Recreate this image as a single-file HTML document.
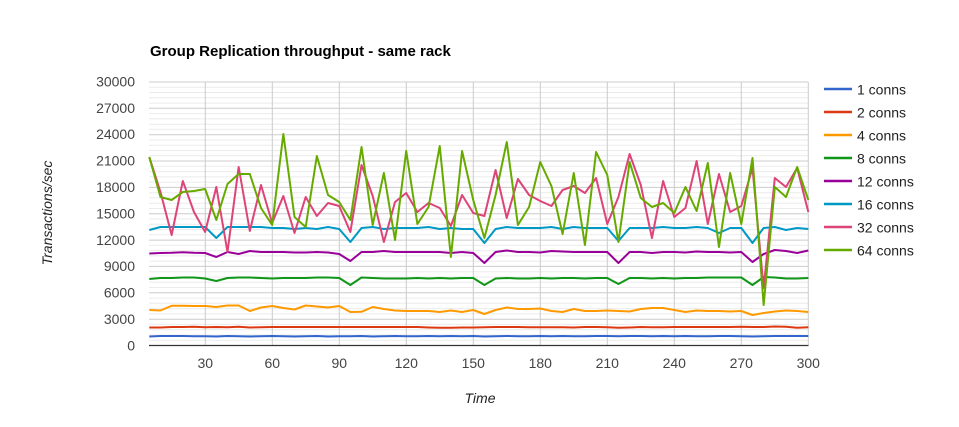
<!DOCTYPE html>
<html><head><meta charset="utf-8"><style>
html,body{margin:0;padding:0;background:#fff;}
svg{display:block;font-family:"Liberation Sans",Arial,sans-serif;}
</style></head><body>
<svg width="959" height="427" viewBox="0 0 959 427" xmlns="http://www.w3.org/2000/svg">
<rect width="959" height="427" fill="#fff"/>
<text x="150" y="56" font-size="15" font-weight="bold" fill="#000">Group Replication throughput - same rack</text>
<g id="minor" stroke="#ebebeb" stroke-width="1">
<path d="M149 340.2H808M149 335H808M149 329.7H808M149 324.4H808
M149 313.9H808M149 308.6H808M149 303.3H808M149 298.1H808
M149 287.5H808M149 282.3H808M149 277H808M149 271.7H808
M149 261.2H808M149 255.9H808M149 250.6H808M149 245.4H808
M149 234.8H808M149 229.6H808M149 224.3H808M149 219H808
M149 208.5H808M149 203.2H808M149 197.9H808M149 192.7H808
M149 182.1H808M149 176.9H808M149 171.6H808M149 166.3H808
M149 155.8H808M149 150.5H808M149 145.2H808M149 140H808
M149 129.4H808M149 124.2H808M149 118.9H808M149 113.6H808
M149 103.1H808M149 97.8H808M149 92.5H808M149 87.3H808"/>
</g>
<g stroke="#cccccc" stroke-width="1">
<path d="M149 319.2H808M149 292.8H808M149 266.4H808M149 240.1H808M149 213.7H808M149 187.4H808M149 161H808M149 134.7H808M149 108.3H808M149 82H808"/>
<path d="M205.3 82V345M272.3 82V345M339.3 82V345M406.3 82V345M473.3 82V345M540.3 82V345M607.3 82V345M674.3 82V345M741.3 82V345M808.3 82V345"/>
</g>
<line x1="149" y1="345.5" x2="808.5" y2="345.5" stroke="#333" stroke-width="1.2"/>
<g font-size="14" fill="#444" text-anchor="end">
<text x="135" y="350.5">0</text><text x="135" y="324">3000</text><text x="135" y="297.5">6000</text><text x="135" y="271">9000</text><text x="135" y="245">12000</text><text x="135" y="218.5">15000</text><text x="135" y="192">18000</text><text x="135" y="165.5">21000</text><text x="135" y="139">24000</text><text x="135" y="113">27000</text><text x="135" y="86.5">30000</text>
</g>
<g font-size="14" fill="#444" text-anchor="middle">
<text x="205.3" y="368">30</text><text x="272.3" y="368">60</text><text x="339.3" y="368">90</text><text x="406.3" y="368">120</text><text x="473.3" y="368">150</text><text x="540.3" y="368">180</text><text x="607.3" y="368">210</text><text x="674.3" y="368">240</text><text x="741.3" y="368">270</text><text x="808.3" y="368">300</text>
</g>
<text x="480" y="403" font-size="14" font-style="italic" fill="#222" text-anchor="middle">Time</text>
<text transform="translate(52,213) rotate(-90)" font-size="14" font-style="italic" fill="#222" text-anchor="middle">Transactions/sec</text>
<g transform="translate(149.3,0) scale(11.17,1)" fill="none" stroke-width="2" stroke-linejoin="round">
<polyline vector-effect="non-scaling-stroke" stroke="#3366cc" points="0,336.5 1,336 2,336 3,336 4,336.3 5,336.3 6,336.5 7,336 8,336.2 9,336.5 10,336.3 11,336 12,336.2 13,336.5 14,336.3 15,336 16,336.5 17,336.3 18,336.2 19,336 20,336.5 21,336.2 22,336 23,336.3 24,336.2 25,336 26,336.3 27,336 28,336.2 29,336 30,336.5 31,336.2 32,336 33,336.2 34,336.3 35,336 36,336.2 37,336 38,336.2 39,336.3 40,336 41,336 42,336.3 43,336 44,336 45,336.2 46,336 47,336.3 48,336 49,336.2 50,336.2 51,336 52,336 53,336.2 54,336.5 55,336.2 56,336 57,336 58,336 59,336"/>
<polyline vector-effect="non-scaling-stroke" stroke="#dc3912" points="0,327.5 1,327.5 2,327 3,327 4,326.8 5,327.2 6,327 7,327.3 8,326.8 9,327.5 10,327.3 11,327 12,327 13,327 14,327 15,327 16,327 17,327 18,327 19,327 20,327 21,327 22,327 23,327 24,327 25,327.5 26,327.8 27,327.8 28,327.5 29,327.5 30,327.2 31,327 32,327 33,327 34,327.3 35,327.3 36,327.3 37,327.3 38,327.5 39,327 40,327 41,327.3 42,327.8 43,327.5 44,327 45,327.3 46,327.2 47,327 48,327 49,327 50,327 51,327 52,327 53,326.8 54,327 55,327 56,326.5 57,326.8 58,327.7 59,327.3"/>
<polyline vector-effect="non-scaling-stroke" stroke="#ff9900" points="0,310 1,310.5 2,305.8 3,305.8 4,306 5,306 6,307 7,305.5 8,305.5 9,311 10,307.5 11,306 12,308 13,309.5 14,305.5 15,306.5 16,307.5 17,306 18,312 19,311.8 20,307 21,309 22,310.5 23,311 24,311 25,311 26,312 27,310.5 28,312 29,310 30,314 31,310 32,307.5 33,309 34,309 35,308.5 36,311 37,312 38,309 39,311 40,311 41,310.5 42,311 43,311.5 44,309 45,308 46,308 47,310 48,312 49,310.5 50,311 51,311 52,311.5 53,311 54,315 55,313 56,311.5 57,310.5 58,311 59,312"/>
<polyline vector-effect="non-scaling-stroke" stroke="#109618" points="0,279 1,278 2,278 3,277.5 4,277.5 5,278.5 6,281 7,278 8,277.5 9,277.5 10,278 11,278.5 12,278 13,278 14,278 15,277.5 16,277.5 17,278 18,285 19,277.5 20,278 21,278.5 22,278.5 23,278.5 24,278 25,278.5 26,278 27,278.5 28,278 29,278 30,285 31,278.5 32,278 33,278.5 34,278.5 35,278 36,278.5 37,278 38,278 39,278.5 40,278 41,278 42,284 43,278 44,278 45,278.5 46,278 47,278.5 48,278 49,278 50,277.5 51,277.5 52,277.5 53,277.5 54,285 55,277 56,277.5 57,278.5 58,278.5 59,278"/>
<polyline vector-effect="non-scaling-stroke" stroke="#990099" points="0,253.5 1,253 2,252.8 3,252.3 4,252.8 5,253 6,257 7,252 8,254 9,251 10,252 11,252 12,252 13,252.5 14,252.5 15,252 16,252.5 17,254 18,261 19,252 20,252 21,251 22,252 23,252 24,252 25,252 26,252 27,253 28,252 29,253 30,263 31,252 32,250.5 33,252 34,252 35,252.5 36,251 37,251.5 38,252 39,252 40,252 41,252 42,263 43,252 44,252 45,253 46,252 47,252 48,252.5 49,251.5 50,252 51,252 52,252.5 53,252 54,262 55,254 56,250 57,251 58,253 59,250.5"/>
<polyline vector-effect="non-scaling-stroke" stroke="#0099c6" points="0,230 1,227 2,227 3,227 4,227 5,227 6,238 7,227 8,227 9,227 10,227 11,228 12,228 13,229 14,228 15,229 16,227 17,229 18,242 19,228 20,227 21,229 22,228 23,228 24,228 25,227 26,229 27,228 28,229 29,229 30,243 31,229 32,227 33,228 34,228 35,228 36,227 37,229 38,227 39,228 40,228 41,228 42,241 43,228 44,228 45,228 46,227 47,228 48,228 49,227 50,228 51,233 52,228 53,228 54,243 55,228 56,227 57,230 58,228 59,229"/>
<polyline vector-effect="non-scaling-stroke" stroke="#dd4477" points="0,157 1,192 2,235 3,181 4,212 5,232 6,187 7,252 8,167 9,231 10,185 11,223 12,196 13,233 14,197 15,216 16,203 17,206 18,232 19,165 20,196 21,242 22,202 23,193 24,212 25,203 26,208 27,226 28,195 29,213 30,216 31,170 32,218 33,179 34,195 35,201 36,206 37,190 38,186 39,193 40,178 41,224 42,197 43,154 44,185 45,238 46,181 47,217 48,208 49,161 50,224 51,174 52,212 53,206 54,168 55,288 56,178 57,187 58,168 59,212"/>
<polyline vector-effect="non-scaling-stroke" stroke="#66aa00" points="0,157 1,197 2,200 3,192 4,191 5,189 6,220 7,184 8,174 9,174 10,208 11,225 12,134 13,217 14,227 15,156 16,195 17,202 18,220 19,147 20,225 21,173 22,240 23,151 24,224 25,207 26,146 27,257 28,151 29,200 30,238 31,195 32,142 33,225 34,207 35,162 36,186 37,234 38,173 39,245 40,152 41,175 42,242 43,162 44,198 45,207 46,203 47,213 48,187 49,211 50,163 51,247 52,173 53,224 54,158 55,305 56,187 57,197 58,167 59,200"/>
</g>
<g stroke-width="2.5">
<line x1="824" y1="89" x2="852" y2="89" stroke="#3366cc"/>
<line x1="824" y1="112" x2="852" y2="112" stroke="#dc3912"/>
<line x1="824" y1="135" x2="852" y2="135" stroke="#ff9900"/>
<line x1="824" y1="158" x2="852" y2="158" stroke="#109618"/>
<line x1="824" y1="181" x2="852" y2="181" stroke="#990099"/>
<line x1="824" y1="204" x2="852" y2="204" stroke="#0099c6"/>
<line x1="824" y1="227" x2="852" y2="227" stroke="#dd4477"/>
<line x1="824" y1="250" x2="852" y2="250" stroke="#66aa00"/>
</g>
<g font-size="14" fill="#222">
<text x="857" y="94.5">1 conns</text>
<text x="857" y="117.5">2 conns</text>
<text x="857" y="140.5">4 conns</text>
<text x="857" y="163.5">8 conns</text>
<text x="857" y="186.5">12 conns</text>
<text x="857" y="209.5">16 conns</text>
<text x="857" y="232.5">32 conns</text>
<text x="857" y="255.5">64 conns</text>
</g>
</svg>
</body></html>
